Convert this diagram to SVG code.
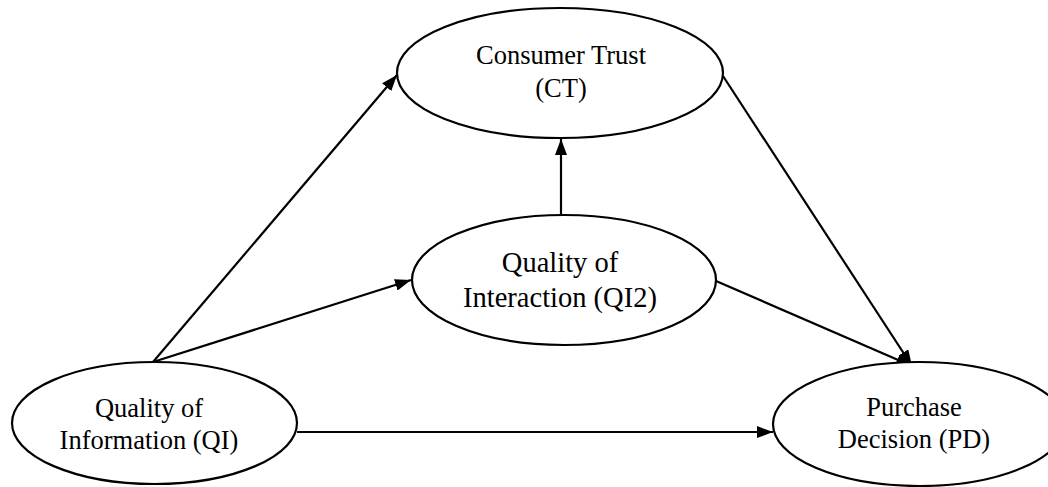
<svg xmlns="http://www.w3.org/2000/svg" width="1048" height="487" viewBox="0 0 1048 487">
<defs>
<style>
.node{fill:#fff;stroke:#000;stroke-width:2.2}
.lbl{font-family:"Liberation Serif","Times New Roman",serif;font-size:26.5px;fill:#000;text-anchor:middle}
.big{font-size:28.5px}
.edge{stroke:#000;stroke-width:2.2;fill:none;marker-end:url(#ah)}
</style>
<marker id="ah" viewBox="0 0 16 12" refX="16" refY="6" markerWidth="16" markerHeight="12" markerUnits="userSpaceOnUse" orient="auto">
<path d="M0,0 L16,6 L0,12 z" fill="#000"/>
</marker>
</defs>
<rect width="1048" height="487" fill="#fff"/>
<g id="connectors">
<line class="edge" x1="153" y1="362" x2="397" y2="75"/>
<line class="edge" x1="153" y1="362" x2="411" y2="280"/>
<line class="edge" x1="561" y1="214" x2="561" y2="139"/>
<line class="edge" x1="723" y1="76" x2="912" y2="366"/>
<line class="edge" x1="716" y1="281" x2="912" y2="366"/>
<line class="edge" x1="297" y1="432" x2="773" y2="432"/>
</g>
<g id="CT">
<ellipse class="node" cx="560" cy="73" rx="163" ry="65"/>
<text class="lbl" x="561" y="64">Consumer Trust</text>
<text class="lbl" x="561" y="97">(CT)</text>
</g>
<g id="QI2">
<ellipse class="node" cx="564" cy="280" rx="152" ry="65"/>
<text class="lbl big" x="560" y="272">Quality of</text>
<text class="lbl big" x="560" y="307">Interaction (QI2)</text>
</g>
<g id="QI">
<ellipse class="node" cx="154.5" cy="423" rx="142.5" ry="61"/>
<text class="lbl" x="149" y="417">Quality of</text>
<text class="lbl" x="149" y="449">Information (QI)</text>
</g>
<g id="PD">
<ellipse class="node" cx="919" cy="424" rx="146" ry="62"/>
<text class="lbl" x="914" y="416">Purchase</text>
<text class="lbl" x="914" y="448">Decision (PD)</text>
</g>
</svg>
